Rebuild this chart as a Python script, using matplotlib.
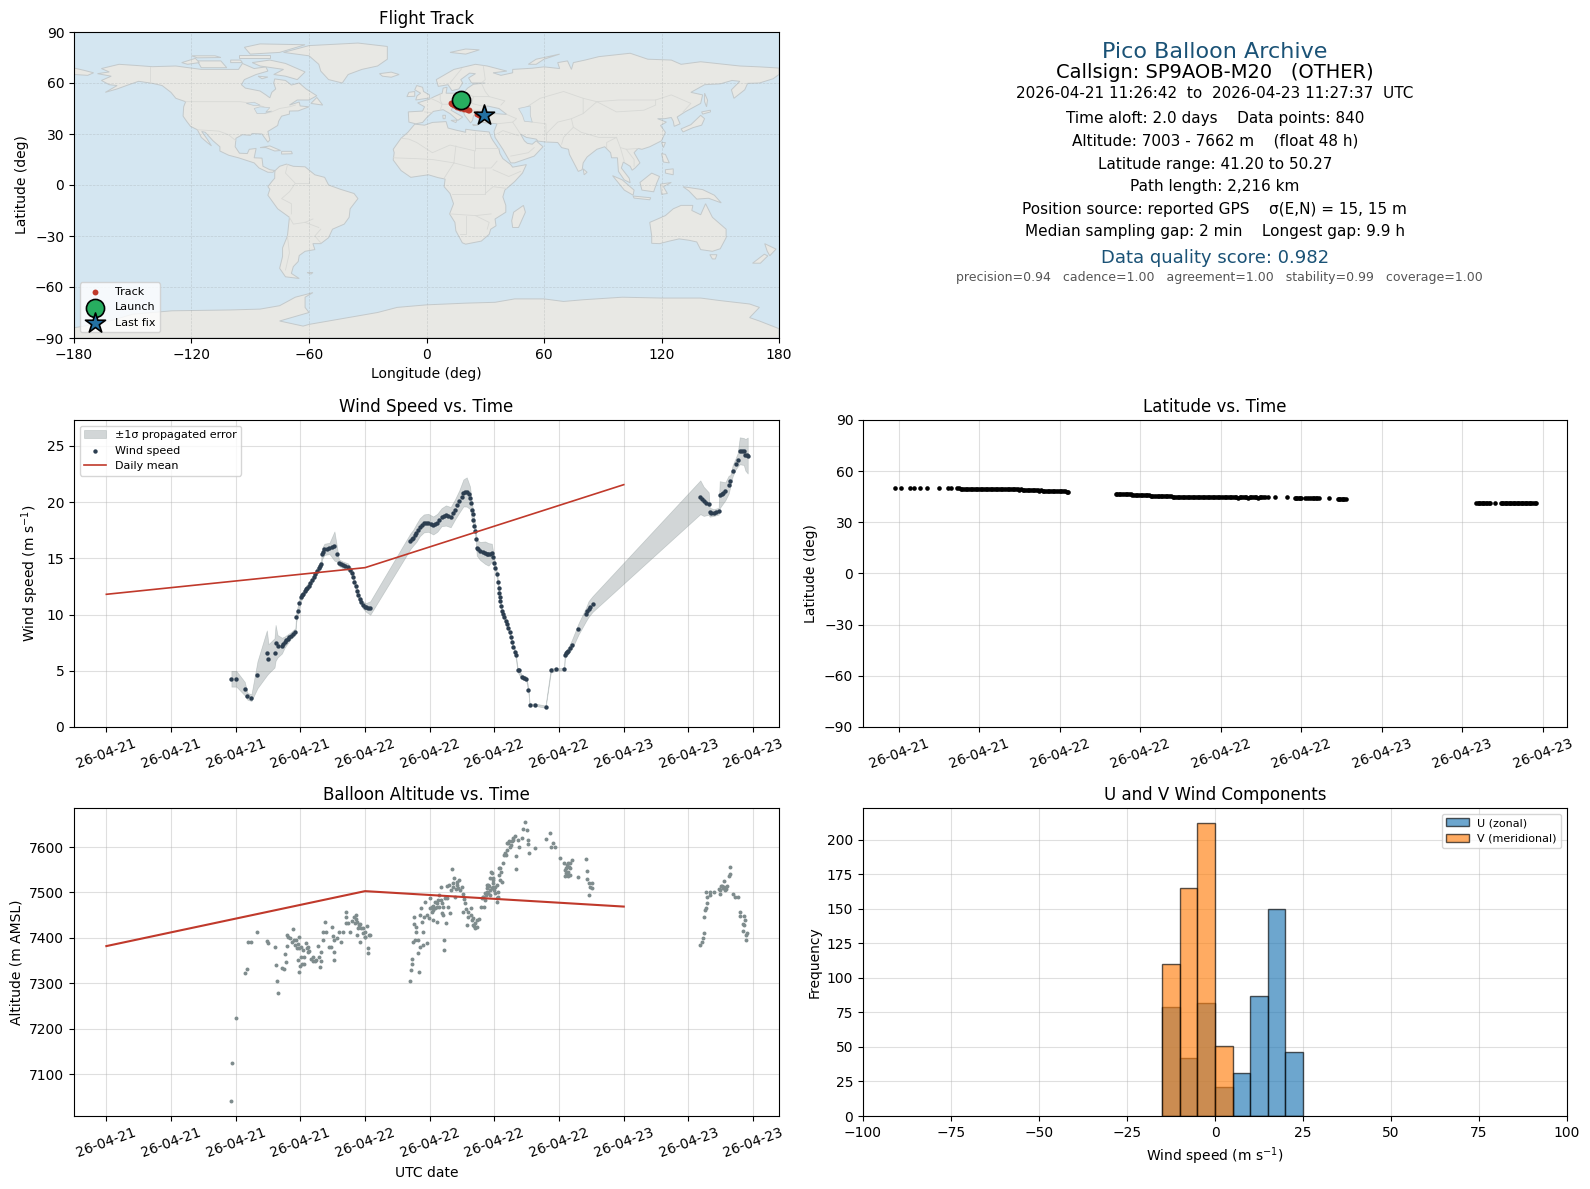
import pandas as pd
import matplotlib
matplotlib.use("Agg")
import matplotlib.pyplot as plt
import matplotlib.dates as mdates
from matplotlib.patches import Polygon

# Flight data, hours are counted from 2026-04-21 00:00 UTC
START = pd.Timestamp("2026-04-21")

wind_hours = [
    11.6, 12.06, 12.84, 13.09, 13.46, 14.02, 14.89, 15.04, 15.6, 15.7,
    15.88, 16.29, 16.53, 16.81, 17.12, 17.53, 17.62, 17.75, 17.9, 18.06,
    18.27, 18.52, 18.77, 19.08, 19.39, 19.7, 19.92, 20.01, 20.23, 20.7,
    21.16, 21.38, 21.57, 21.94, 22.4, 22.81, 23.02, 23.24, 23.49, 23.8,
    24.11, 24.48, 28.21, 28.46, 28.77, 29.08, 29.45, 29.86, 30.32, 30.7,
    31.1, 31.5, 31.94, 32.34, 32.75, 33.12, 33.43, 33.74, 33.89, 34.05,
    34.24, 34.36, 34.67, 35.14, 35.45, 35.76, 35.98, 36.22, 36.32, 36.44,
    36.53, 36.69, 36.91, 37.16, 37.4, 37.62, 37.93, 38.15, 38.55, 38.96,
    39.14, 39.27, 39.72, 40.74, 41.23, 41.73, 42.47, 42.53, 42.87, 43.18,
    43.8, 44.51, 44.73, 45.1, 55.1, 55.41, 55.88, 55.97, 56.34, 56.8,
    56.9, 57.42, 57.73, 57.89, 58.1, 58.38, 58.57, 58.76, 59.13, 59.28, 59.5,
]
wind_speed = [
    4.29, 4.29, 3.41, 2.73, 2.61, 4.65, 6.59, 6.06, 6.59, 7.48,
    7.18, 7.24, 7.54, 7.83, 8.13, 8.48, 9.75, 10.34, 10.99, 11.52,
    11.87, 12.26, 12.55, 13.05, 13.64, 14.17, 14.47, 15.41, 15.8, 15.88,
    16.09, 15.41, 14.62, 14.41, 14.26, 13.73, 12.85, 12.11, 11.37, 10.84,
    10.63, 10.58, 16.53, 16.83, 17.27, 17.77, 18.1, 18.16, 17.92, 18.16,
    18.66, 18.81, 18.66, 19.34, 20.07, 20.81, 20.9, 20.37, 19.34, 18.45,
    17.42, 15.94, 15.65, 15.5, 15.35, 15.5, 14.62, 13.58, 12.85, 11.96,
    11.22, 10.34, 9.75, 9.16, 8.42, 7.54, 6.65, 5.09, 4.44, 4.29,
    3.32, 1.99, 1.99, 1.81, 5.03, 5.12, 5.15, 6.42, 6.8, 7.33,
    8.72, 10.04, 10.49, 10.93, 20.43, 20.07, 19.87, 19.1, 19.07, 19.19,
    20.66, 20.96, 21.55, 21.9, 22.79, 23.41, 23.76, 24.56, 24.5, 24.2, 24.14,
]
wind_err = [
    .7, .7, .6, .3, .3, 1.2, 2.0, 1.3, 1.3, 1.6,
    1.0, .7, .5, .4, .3, .3, .4, .4, .4, .3,
    .3, .3, .3, .3, .3, .3, .3, .5, .5, .5,
    1.3, .7, .3, .3, .3, .3, .3, .3, .3, .3,
    .4, .6, .7, .7, .8, .8, .8, .8, .8, .8,
    .8, .9, .9, .9, 1.0, 1.2, 1.3, 1.0, .8, .6,
    .5, .7, .8, 1.0, 1.0, .8, .4, .3, .3, .3,
    .2, .2, .2, .2, .2, .2, .2, .2, .2, .2,
    .2, .1, .1, .1, .2, .1, .1, .3, .3, .4,
    .5, .6, .7, .7, 1.5, 1.3, 1.0, .4, .3, .3,
    1.2, .8, .8, .5, .5, .5, .6, 1.2, 1.2, 1.4, 1.6,
]
# more fixes in the stretches where the dots run together
wind_hours_more = [
    16.4, 16.67, 16.97, 17.32, 18.16, 18.4, 18.65, 18.92, 19.22, 19.55,
    19.81, 20.1, 20.45, 20.95, 21.75, 22.15, 22.6, 22.92, 23.13, 23.36,
    23.65, 23.95, 24.3, 28.33, 28.6, 28.92, 29.25, 29.65, 30.1, 30.5,
    30.9, 31.3, 31.7, 32.15, 32.55, 32.95, 33.28, 33.6, 33.82, 33.97,
    34.15, 34.3, 34.5, 34.9, 35.3, 35.6, 35.87, 36.1, 36.38, 36.48,
    36.6, 36.8, 37.03, 37.28, 37.5, 37.77, 38.02, 38.3, 38.7, 42.6,
    42.7, 43.0, 44.6, 44.9, 55.25, 55.65, 56.05, 56.6, 57.1, 57.25,
    58.95, 59.4,
]
wind_speed_more = [
    7.4, 7.7, 8.0, 8.3, 11.7, 12.05, 12.4, 12.8, 13.35, 13.9,
    14.3, 15.6, 15.85, 16.0, 14.5, 14.35, 14.0, 13.3, 12.5, 11.75,
    11.1, 10.7, 10.6, 16.7, 17.05, 17.5, 17.95, 18.15, 18.05, 18.05,
    18.4, 18.75, 18.75, 19.0, 19.7, 20.45, 20.9, 20.7, 19.9, 18.9,
    17.9, 16.7, 15.8, 15.55, 15.4, 15.4, 15.1, 14.1, 12.4, 11.6,
    10.8, 10.05, 9.45, 8.8, 8.0, 7.1, 6.4, 5.1, 4.35, 6.6,
    6.7, 7.05, 10.3, 10.7, 20.25, 19.95, 19.05, 19.1, 20.75, 20.85,
    24.55, 24.15,
]

mean_hours = [0, 24, 48]
wind_daily = [11.8, 14.17, 21.55]
alt_daily = [7382, 7503, 7469]

alt_hours = [
    11.6, 11.69, 12.06, 12.84, 13.09, 13.18, 13.46, 14.02, 14.86, 15.04,
    15.6, 15.7, 15.79, 15.88, 16.26, 16.44, 16.53, 16.63, 16.72, 16.72,
    16.81, 17.03, 17.28, 17.22, 17.44, 17.53, 17.65, 17.78, 17.84, 17.9,
    17.96, 18.06, 18.15, 18.27, 18.37, 18.52, 18.58, 18.71, 18.83, 18.99,
    19.14, 19.33, 19.61, 19.7, 19.83, 19.92, 19.95, 20.08, 20.14, 20.26,
    20.39, 20.64, 20.85, 20.92, 21.0, 21.1, 21.1, 21.16, 21.38, 21.57,
    21.75, 21.94, 22.19, 22.25, 22.19, 22.4, 22.62, 22.81, 22.96, 23.12,
    23.24, 23.24, 23.43, 23.49, 23.65, 23.8, 23.96, 24.02, 24.17, 24.26,
    24.26, 24.36, 24.48, 28.18, 28.27, 28.31, 28.4, 28.46, 28.62, 28.52,
    28.52, 28.68, 28.77, 28.87, 28.93, 29.02, 29.08, 29.14, 29.18, 29.24,
    29.33, 29.39, 29.45, 29.58, 29.7, 29.76, 29.95, 30.01, 30.07, 30.17,
    30.32, 30.32, 30.48, 30.64, 30.7, 30.79, 30.88, 31.0, 31.1, 31.2,
    31.26, 31.32, 31.35, 31.47, 31.57, 31.63, 31.72, 31.88, 32.1, 32.13,
    32.25, 32.34, 32.5, 32.75, 32.66, 32.96, 33.12, 33.27, 33.06, 33.43,
    33.58, 33.8, 33.89, 34.05, 34.2, 34.36, 34.61, 34.74, 34.92, 35.14,
    35.3, 35.45, 35.6, 35.73, 35.85, 36.0, 36.2, 36.44, 36.44, 35.04,
    34.82, 35.23, 35.35, 35.44, 35.6, 35.69, 35.75, 35.91, 35.91, 36.06,
    36.22, 36.22, 36.37, 36.53, 36.53, 36.68, 36.77, 36.9, 36.99, 37.15,
    37.3, 37.46, 37.61, 37.76, 37.92, 38.01, 38.01, 38.23, 38.32, 38.54,
    38.69, 38.85, 39.0, 39.07, 39.16, 39.22, 39.72, 40.77, 41.2, 41.26,
    41.42, 41.63, 42.04, 42.41, 42.56, 42.72, 42.87, 43.03, 43.18, 43.03,
    43.8, 44.45, 44.58, 44.58, 44.76, 45.04, 44.89, 45.04, 44.82, 55.1,
    55.26, 55.35, 55.41, 55.41, 55.5, 55.66, 55.72, 55.6, 55.72, 55.97,
    55.97, 56.34, 56.8, 56.96, 57.02, 57.21, 57.33, 57.52, 57.58, 57.73,
    57.89, 57.83, 58.11, 58.35, 58.57, 58.82, 58.82, 59.13, 59.22, 59.03,
    59.13, 59.03, 59.44, 59.35, 59.32,
    30.32, 30.48, 30.17, 30.7, 30.88, 31.0, 31.13, 31.41, 31.82, 31.94,
    32.19, 32.44, 32.56, 32.81, 33.18, 33.37, 33.58, 33.8, 34.05, 34.2,
    34.36, 34.11, 17.6, 17.75, 17.9, 18.06, 18.37, 18.68, 19.14, 19.45,
    23.03, 23.34, 23.55, 23.8, 23.96, 23.18, 35.35, 35.54, 35.85, 35.6,
    35.13, 34.98, 36.06, 36.37, 36.59, 37.08, 37.21, 37.39, 37.52, 37.7,
    42.66, 42.78, 42.9, 42.66, 42.87, 43.0, 42.78, 42.56, 57.11, 56.89,
    57.27, 57.36,
]
alt_meters = [
    7040, 7124, 7224, 7323, 7332, 7390, 7391, 7414, 7394, 7388,
    7379, 7341, 7306, 7279, 7334, 7332, 7365, 7346, 7407, 7383,
    7401, 7399, 7419, 7391, 7396, 7384, 7377, 7351, 7326, 7401,
    7338, 7358, 7343, 7373, 7343, 7388, 7377, 7380, 7371, 7354,
    7349, 7349, 7382, 7358, 7336, 7369, 7349, 7395, 7413, 7434,
    7413, 7379, 7380, 7423, 7404, 7369, 7351, 7395, 7399, 7413,
    7392, 7413, 7458, 7445, 7432, 7432, 7413, 7438, 7445, 7450,
    7436, 7406, 7428, 7391, 7421, 7410, 7413, 7402, 7426, 7377,
    7367, 7406, 7406, 7306, 7329, 7343, 7353, 7391, 7395, 7430,
    7445, 7413, 7424, 7396, 7367, 7326, 7450, 7379, 7465, 7436,
    7384, 7413, 7447, 7480, 7389, 7450, 7443, 7465, 7487, 7458,
    7470, 7439, 7480, 7436, 7469, 7484, 7495, 7512, 7454, 7450,
    7469, 7395, 7373, 7432, 7487, 7514, 7469, 7454, 7551, 7512,
    7531, 7491, 7517, 7528, 7509, 7512, 7497, 7476, 7456, 7428,
    7447, 7465, 7439, 7428, 7421, 7423, 7441, 7469, 7491, 7484,
    7502, 7517, 7495, 7544, 7531, 7506, 7517, 7554, 7539, 7469,
    7487, 7495, 7517, 7498, 7531, 7545, 7509, 7528, 7512, 7498,
    7480, 7487, 7500, 7554, 7528, 7524, 7565, 7583, 7588, 7594,
    7609, 7601, 7613, 7620, 7624, 7581, 7551, 7616, 7600, 7620,
    7640, 7655, 7637, 7616, 7607, 7587, 7598, 7618, 7630, 7601,
    7610, 7600, 7576, 7566, 7537, 7561, 7546, 7565, 7571, 7539,
    7534, 7573, 7548, 7530, 7522, 7520, 7512, 7509, 7494, 7384,
    7391, 7399, 7411, 7447, 7461, 7465, 7476, 7500, 7489, 7495,
    7502, 7500, 7507, 7497, 7514, 7509, 7526, 7507, 7514, 7537,
    7541, 7556, 7496, 7489, 7491, 7456, 7448, 7448, 7439, 7430,
    7428, 7416, 7410, 7406, 7396,
    7461, 7465, 7469, 7476, 7469, 7484, 7476, 7487, 7517, 7506,
    7520, 7507, 7524, 7506, 7485, 7463, 7458, 7450, 7443, 7432,
    7439, 7426, 7395, 7386, 7377, 7380, 7358, 7369, 7358, 7351,
    7432, 7421, 7430, 7421, 7402, 7441, 7509, 7514, 7520, 7506,
    7498, 7491, 7512, 7491, 7546, 7583, 7609, 7613, 7605, 7616,
    7553, 7539, 7557, 7542, 7537, 7553, 7565, 7550, 7514, 7506,
    7511, 7506,
]

lat_hours = [
    11.7, 12.13, 12.87, 13.1, 13.55, 14.07, 15.0, 15.65, 15.87, 16.36,
    16.6, 16.85, 17.1, 17.35, 17.6, 17.85, 18.1, 18.35, 18.6, 18.85,
    19.1, 19.35, 19.6, 19.85, 20.1, 20.35, 20.6, 20.85, 21.1, 21.35,
    21.6, 21.85, 22.1, 22.35, 22.6, 22.85, 23.1, 23.35, 23.6, 23.85,
    24.1, 24.35, 24.6,
    28.15, 28.4, 28.65, 28.9, 29.15, 29.4, 29.65, 29.9, 30.15, 30.4,
    30.65, 30.9, 31.15, 31.4, 31.65, 31.9, 32.15, 32.4, 32.65, 32.9,
    33.15, 33.4, 33.65, 33.9, 34.15, 34.4, 34.65, 34.9, 35.15, 35.4,
    35.65, 35.9, 36.15, 36.4, 36.65, 36.9, 37.15, 37.4, 37.65, 37.9,
    38.15, 38.4, 38.65, 38.9, 39.15, 39.5, 40.0, 40.95, 41.5, 41.7,
    41.9, 42.3, 42.6, 42.85, 43.1, 43.3, 44.05, 44.7, 44.9, 45.1, 45.3,
    55.05, 55.25, 55.45, 55.65, 55.85, 56.05, 56.45, 56.85, 57.05, 57.25,
    57.45, 57.65, 57.85, 58.05, 58.25, 58.45, 58.65, 58.85, 59.05, 59.25, 59.5,
    16.5, 16.72, 16.98, 17.22, 17.48, 17.72, 17.98, 18.22, 18.48, 18.72,
    18.98, 19.22, 19.48, 19.72, 19.98, 20.22, 20.48, 20.72, 20.98, 21.22,
    21.48, 21.72, 21.98, 22.22, 22.48, 22.72, 22.98, 23.22, 23.48, 23.72,
    23.98, 24.22, 24.5, 28.28, 28.52, 28.78, 29.02, 29.28, 29.52, 29.78,
    30.02, 30.28, 30.52, 30.78, 31.02, 31.28, 31.52, 31.78, 32.02, 32.28,
    32.52, 32.78, 33.02, 33.28, 33.52, 33.78, 34.02, 34.28, 34.52, 34.78,
    35.02, 35.28, 35.52, 35.78, 36.02, 36.28, 36.52, 36.78, 37.02, 37.28,
    37.52, 37.78, 38.02, 38.28, 38.52, 38.78, 39.02, 39.3, 41.6, 41.8,
    42.0, 42.45, 42.72, 42.98, 43.2, 44.8, 45.0, 45.2, 55.15, 55.35,
    55.55, 55.75, 55.95, 56.95, 57.15, 57.35, 57.55, 57.75, 57.95, 58.15,
    58.35, 58.55, 58.75, 58.95, 59.15, 59.38,
]
lat_deg = [
    50.1, 50.1, 50.1, 50.1, 50.1, 50.1, 50.1, 50.1, 50.1, 50.1,
    49.8, 49.8, 49.8, 49.8, 49.8, 49.7, 49.7, 49.7, 49.7, 49.7,
    49.7, 49.7, 49.6, 49.6, 49.6, 49.5, 49.5, 49.4, 49.3, 49.2,
    49.1, 49.0, 48.9, 48.8, 48.7, 48.5, 48.4, 48.4, 48.3, 48.3,
    48.2, 48.2, 47.9,
    46.7, 46.7, 46.6, 46.5, 46.4, 46.3, 46.2, 46.1, 46.0, 45.9,
    45.8, 45.6, 45.5, 45.4, 45.4, 45.3, 45.2, 45.1, 45.1, 45.0,
    44.9, 44.8, 44.8, 44.8, 44.8, 44.8, 44.7, 44.7, 44.7, 44.7,
    44.7, 44.7, 44.7, 44.7, 44.7, 44.6, 44.6, 44.6, 44.6, 44.6,
    44.6, 44.6, 44.6, 44.6, 44.6, 44.7, 44.8, 44.8, 44.5, 44.4,
    44.3, 44.3, 44.2, 44.2, 44.2, 44.2, 44.2, 43.6, 43.6, 43.5, 43.6,
    41.3, 41.3, 41.3, 41.3, 41.3, 41.3, 41.3, 41.3, 41.3, 41.3,
    41.3, 41.3, 41.3, 41.2, 41.2, 41.3, 41.3, 41.2, 41.3, 41.3, 41.3,
    49.9, 49.8, 49.7, 49.8, 49.7, 49.8, 49.6, 49.7, 49.6, 49.7,
    49.7, 49.6, 49.7, 49.5, 49.6, 49.5, 49.4, 49.4, 49.2, 49.2,
    49.0, 48.9, 48.8, 48.7, 48.5, 48.5, 48.3, 48.3, 48.2, 48.2,
    48.1, 48.1, 48.0, 46.8, 46.6, 46.6, 46.4, 46.4, 46.2, 46.2,
    46.0, 46.0, 45.8, 45.7, 45.5, 45.5, 45.3, 45.3, 45.2, 45.2,
    45.0, 45.0, 44.9, 44.9, 44.7, 44.8, 44.7, 44.8, 44.6, 44.7,
    44.7, 44.6, 44.7, 44.6, 44.7, 44.7, 44.6, 44.6, 44.7, 44.5,
    44.6, 44.6, 44.5, 44.6, 44.6, 44.5, 44.6, 44.6, 44.4, 44.3,
    44.3, 44.2, 44.3, 44.2, 44.1, 43.5, 43.6, 43.6, 41.4, 41.2,
    41.3, 41.2, 41.3, 41.2, 41.3, 41.4, 41.2, 41.3, 41.2, 41.3,
    41.2, 41.3, 41.2, 41.2, 41.3, 41.2,
]

track_lon = [17.2, 15.5, 14.0, 12.5, 13.0, 14.0, 15.0, 15.5, 16.5, 17.0, 18.0, 19.0, 20.0, 21.0, 21.5, 26.0, 26.8, 27.5, 28.5, 29.4]
track_lat = [49.8, 49.3, 48.8, 48.0, 47.4, 46.9, 46.4, 45.9, 45.6, 45.2, 45.2, 44.8, 44.6, 44.2, 43.9, 41.8, 41.4, 41.3, 41.3, 41.2]
launch_lon, launch_lat = [17.8], [50.27]
last_lon, last_lat = [29.4], [41.2]

hist_edges = [-15, -10, -5, 0, 5, 10, 15, 20, 25]
u_counts = [79, 42, 82, 21, 31, 87, 150, 46]
v_counts = [110, 165, 212, 51, 0, 0, 0, 0]

# Rough coastlines, lon/lat
land = [
    # north america
    [(-168,65.5),(-162,66.5),(-166,68.5),(-157,71),(-148,70.3),(-140,69.6),(-128,70),(-115,68),(-108,68),(-96,68),
     (-94,71.5),(-88,68.5),(-82,69.5),(-81,67),(-87,65),(-93,62),(-94.5,59),(-92.5,57),(-85,55.3),(-82,53),(-80,51.3),
     (-79,54.5),(-77,56.5),(-78,60),(-77.5,62.4),(-72,61.5),(-69,58.8),(-65,60),(-61.5,56.5),(-56,52.5),(-60,50),
     (-66,50),(-70,47),(-65,48.8),(-64.5,46.5),(-60,46),(-65.5,43.6),(-70,43.5),(-70,41.7),(-74,40.5),(-75.5,37.5),
     (-76,35),(-81,31.5),(-80,26.5),(-81,25.2),(-82.8,28),(-84,30),(-89,30.3),(-90,29.2),(-94,29.6),(-97.3,27.5),
     (-97.7,22.5),(-95.5,18.7),(-91.5,18.5),(-90.5,21),(-87,21.5),(-88,16),(-84,15.8),(-83.5,11),(-80,9),(-77.3,8.5),
     (-78.5,7.5),(-81,7.5),(-85.5,10),(-88,13),(-92,14.5),(-96,16),(-101,17.5),(-105.5,20),(-105.5,22.5),(-109,26),
     (-113,31),(-114.8,31.5),(-112,27),(-109.8,23),(-112,25),(-115,28),(-117,32.5),(-120.5,34.5),(-122.5,37.5),
     (-124.3,40.5),(-124,46),(-123,49),(-128,51),(-130.5,54.5),(-135,58.5),(-140,59.8),(-147,61),(-152,59),(-158,56.5),
     (-164,54.5),(-158,58.5),(-162,59),(-166,61.5),(-161,64)],
    # south america
    [(-77.3,8.5),(-75,11),(-71.5,12.3),(-68,11),(-62,10.7),(-57,6),(-52,4.5),(-50,0),(-44,-2.5),(-37,-5),(-35,-8),
     (-39,-14),(-39.5,-19),(-42,-23),(-48,-26),(-50,-31),(-54,-34.5),(-58,-34.5),(-57,-38),(-62,-39),(-65,-41.5),
     (-65.5,-45),(-68,-48),(-69,-52),(-65,-55),(-72,-54),(-75,-49),(-73.5,-42),(-73.5,-37),(-71,-30),(-70,-19),
     (-76,-14),(-81,-6),(-80,-2.5),(-81,-1),(-79,2),(-77.5,4),(-77.5,7)],
    # africa
    [(-6,35.8),(-1,35.2),(3,36.8),(10,37.3),(11,33.5),(15,32.3),(20,31),(20,32.8),(25,32),(32,31.2),(33,28),(34,26),
     (37,21),(37.5,18.5),(39,15.5),(43,12),(44,10.5),(51,12),(49,7),(45,2),(40,-3),(39,-7),(40.5,-12),(40.5,-16),
     (35,-20),(35.5,-24),(32.8,-26),(32,-29),(28,-33),(20,-34.8),(18.3,-34),(15,-27),(14.5,-22),(11.8,-17),(13.8,-11),
     (12,-5),(9,-1),(9.5,3.5),(6,4.3),(1,6),(-4,5.2),(-8,4.5),(-13,8.5),(-17,14.7),(-16.5,19),(-17,21),(-13,27.5),(-9.5,31)],
    # eurasia
    [(-5.5,36),(-9,37),(-9.3,43),(-2,43.5),(-1,46),(-4.5,48.3),(1.5,50.5),(4,52),(8,54),(8.5,57),(10.5,57.5),(10,54),
     (14,54),(19,54.5),(21,57),(24,59.3),(30,60),(23,60),(21.5,63),(25,65.5),(22,65.8),(17.5,62),(18.5,60),(16.5,56.5),
     (13,55.5),(11,59),(6,58),(5,62),(14,68),(25,71),(31,70),(41,67),(34,66),(38,64.5),(44,66),(44,68),(54,68.7),(60,69.5),
     (68,68.5),(67,72),(72,73),(74,68),(75,72),(81,73.5),(88,75.5),(104,77.5),(113,74),(125,73.5),(130,71),(140,72.5),
     (152,71),(160,70),(170,69.5),(180,68.8),(180,65),(177,62.5),(170,60),(164,59.8),(162.5,56),(157,51),(155.7,56),
     (160,61),(156,61.5),(150,59.5),(142,59),(135,54.5),(141,53),(140,48),(132,43),(128,40),(129.5,36),(126.5,34.5),
     (126,37.5),(125,39.7),(121.5,39),(118,39),(122.5,37),(119.5,35),(122,31),(120,26),(114,22.5),(110,21),(108,21.5),
     (106,19),(109,13),(106.5,10),(105,8.7),(104,11),(100.5,13.5),(99.5,10),(103.5,4),(104,1.3),(101,3),(98,8),(97.5,16),
     (94.5,16),(94,19),(91,22.5),(87,21),(82,16.5),(80,13),(79.5,9),(77.5,8),(73,18),(72.5,21),(69,22),(67,25),(61,25.3),
     (57,25.8),(56,27),(51,28),(48,30),(50,26),(51.5,24.5),(54,24),(56,26),(59.5,22.5),(55,17),(45,13),(43,13),(39,21),
     (35,28),(34.5,31.5),(36,36),(31,36.5),(27,37),(26.5,40),(29,41),(35,42),(41,41.5),(37,45),(33,46),(31,46.5),(28,43),
     (26,40.7),(24,40.8),(23.5,38),(22.5,36.5),(19.5,41),(19,42.5),(13.5,45.5),(12.5,44),(16,41.7),(18.5,40),(16,38),
     (12,42),(8.5,44.3),(3.5,43.3),(0,39.5),(-2,36.8)],
    [(-180,68.8),(-175,67.5),(-170,66),(-173,64.5),(-180,65)],
    # greenland and arctic canada
    [(-73,78),(-60,82),(-35,83.5),(-20,81.5),(-20,74),(-25,70),(-33,68),(-40,65),(-43,60),(-50,62),(-54,67),(-55,71),(-60,76)],
    [(-80,73.5),(-72,71.5),(-62,66.5),(-66,62),(-72,64),(-78,65),(-73,68),(-85,70),(-89,72)],
    [(-117,73),(-105,73),(-102,69),(-115,69)],
    [(-90,77),(-75,78),(-62,82.5),(-85,83),(-93,81)],
    [(-125,72),(-118,74.5),(-116,72),(-122,71)],
    [(-96,75),(-80,75),(-80,76.5),(-96,76.5)],
    [(-120,76),(-108,76),(-105,75),(-117,74.8)],
    [(-100,73.5),(-95,73.5),(-94,72),(-100,72)],
    [(-59,48),(-53,47),(-56,51.5)],
    [(-86,64),(-81,63.5),(-84,62.5)],
    # caribbean
    [(-85,22),(-80,23),(-74.5,20.3),(-77.5,20),(-82,22)],
    [(-74,19.8),(-69,19.8),(-68.5,18.4),(-74,18.2)],
    # europe islands
    [(-24,65.5),(-18,66.4),(-14,65),(-18,63.4),(-22.5,64)],
    [(-5.5,50),(1.5,51.2),(1.5,53),(-1.5,55),(-2,57.5),(-5,58.5),(-6,56),(-3,54),(-4.8,52.5)],
    [(-10,52),(-6,52.2),(-6,55),(-9,54.5)],
    [(12,78),(20,80),(27,79.5),(20,77)],
    [(52,71),(56,74),(68,77),(60,74),(56,71)],
    [(12.5,38),(15.5,38.2),(15,36.7)],
    [(8.3,41),(9.7,41),(9.5,39),(8.5,39)],
    [(23.5,35.6),(26.3,35.2),(24,34.9)],
    # asia islands
    [(130,33),(135,35.5),(140,41),(142,39),(140.5,35.2),(136,33.7),(131,31.2)],
    [(140.5,43),(145,44),(145,43),(141,41.7)],
    [(142,54),(143.5,50),(143,46),(142,49)],
    [(120,25),(122,25),(121,22)],
    [(120,18.5),(122,18),(124,13),(121,13.5)],
    [(122,9),(126,9.5),(126,6),(122,7)],
    [(95,5.5),(100,3),(106,-3),(105.5,-6),(101,-3)],
    [(105.5,-6.5),(114.5,-7.5),(114,-8.7),(106,-7.7)],
    [(109,1.5),(115,7),(119,5),(117.5,1),(116,-4),(110,-3)],
    [(119.5,0.5),(125,1.5),(121,-1),(123,-5),(120,-5.5)],
    [(131,-1),(141,-2.7),(147,-6),(150.5,-10.5),(144,-7.8),(138,-8.3),(134,-3.5)],
    [(80,9.5),(82,7.5),(80.5,6)],
    # southern continents and islands
    [(49.5,-12),(50.5,-16),(47,-25),(44,-25),(43.5,-21),(44.5,-16)],
    [(114,-22),(122,-18),(126,-14),(130,-12),(136,-12),(135.5,-15),(140,-17.5),(142.5,-11),(146,-19),(153,-26),
     (153,-31),(150,-37.5),(146,-39),(140,-38),(138,-33.5),(134,-32.5),(129,-31.7),(124,-33),(119,-34.5),(115,-34.3),(115,-30)],
    [(144.7,-41),(148.3,-41),(147.5,-43.5),(146,-43.5)],
    [(172.7,-34.5),(178.5,-37.7),(175.3,-41.6),(174,-39)],
    [(172.5,-40.7),(174.3,-41.7),(170.5,-46),(166.5,-46)],
    [(-61,-51.5),(-58,-51.5),(-59,-52.4)],
    [(-180,-84),(-165,-81),(-150,-76),(-130,-74),(-100,-73.5),(-85,-73),(-75,-71),(-67,-66),(-58,-63.3),(-62,-66),
     (-62,-72),(-60,-75),(-75,-80),(-63,-83),(-60,-82),(-45,-79),(-35,-77),(-25,-75),(-15,-72),(0,-70.5),(20,-69.5),
     (35,-69),(45,-67),(60,-67),(70,-68.5),(80,-67.5),(100,-66),(120,-66.5),(140,-66.5),(150,-68),(165,-70),(170,-72),
     (165,-78),(170,-80),(180,-84.5),(180,-90),(-180,-90)],
]
# inland water painted back in ocean colour
lakes = [
    [(47,45),(53,46.5),(53,41),(54,37),(50,37.5),(49,41)],
    [(-92,48),(-88,48.7),(-85,47),(-88,46.7)],
    [(-88,45),(-85,46),(-80,45.5),(-82,43),(-79,43.5),(-83,42),(-86.5,42)],
]
# a few faint borders
borders = [
    [(-141,69.6),(-141,60)], [(-123,49),(-95,49),(-89,48),(-83,46),(-82.5,42),(-79,43),(-75,45),(-70,46),(-67,47)],
    [(-117,32.5),(-106,31.7),(-101,29.5),(-97.3,26)], [(-71,12),(-72,7),(-67,1),(-70,-4),(-74,-8),(-69,-11),(-69,-17)],
    [(-58,-20),(-62,-22),(-68,-23),(-70,-19)], [(-54,-26),(-57,-30),(-54,-34)], [(-71,-30),(-70,-40),(-72,-50)],
    [(-62,-22),(-55,-25)], [(-60,5),(-60,1),(-67,1)],
    [(-13,27.5),(-9,27),(-5,25),(3,19),(12,23.5),(25,20),(25,31)], [(25,22),(37,22)], [(-17,16),(-5,15.5),(3,15),(14,13)],
    [(14,13),(15,23)], [(14,13),(9,4)], [(24,10),(24,20)], [(24,10),(33,10),(36,14)], [(14,13),(24,10)], [(13,-5),(30,-5)],
    [(30,-5),(30,10)], [(30,-5),(34,-1),(41,-2)], [(12,-17),(25,-18),(33,-17)], [(20,-18),(20,-29),(17,-29)],
    [(25,-18),(32,-22),(31,-26)], [(34,9),(42,5),(48,8)],
    [(-1,43),(3,42.5)], [(2,51),(6,49),(8,47.5),(7,44)], [(7,54),(7,50),(8,47.5),(13,47.5),(17,48.5),(23,48),(24,52),(19,54.5)],
    [(14,54),(15,51),(19,49.5)], [(13,47.5),(20,46),(22,44),(28,44)], [(23,48),(30,46)], [(24,52),(32,52),(40,49.5),(38,47)],
    [(28,60),(30,55),(32,52)], [(29,70),(30,62),(28,60)], [(18,68.5),(12,60)],
    [(50,45),(58,51),(70,55),(80,51),(87,49)], [(87,49),(98,50),(107,50),(117,50),(125,53),(135,48),(131,43)],
    [(87,49),(97,43),(111,44),(117,47),(117,50)], [(80,42),(74,39),(75,34),(79,31),(88,28),(97,28),(99,22),(102,21),(108,21.5)],
    [(80,51),(80,42),(87,49)], [(54,37),(61,36),(61,30),(67,37),(74,39)], [(61,25.3),(61,30)], [(75,34),(70,28),(69,24)],
    [(36,36),(44,37),(48,30)], [(44,37),(46,39),(41,41.5)], [(36,30),(39,32),(47,29)], [(43,17),(52,19),(55,22)],
    [(99,22),(101,14)], [(102,21),(106,15),(106,11)], [(92,22),(92,25),(97,28)],
]

track_color = "#c0392b"
wind_color = "#2c3e50"
alt_color = "#7f8c8d"
ocean_color = "#d4e6f1"
land_color = "#e8e8e4"
title_color = "#1a5276"

W, H = 1590, 1189


def make_axes(x0, x1, y0, y1):
    return fig.add_axes([x0 / W, 1 - y1 / H, (x1 - x0) / W, (y1 - y0) / H])


def to_dates(hours):
    return [START + pd.Timedelta(hours=h) for h in hours]


def date_axis(ax, left, right):
    ax.set_xlim(to_dates([left, right]))
    ax.xaxis.set_major_locator(mdates.HourLocator(byhour=[0, 6, 12, 18]))
    ax.xaxis.set_major_formatter(mdates.DateFormatter("%y-%m-%d"))
    ax.tick_params(axis="x", labelrotation=20)
    ax.grid(True, color="#b0b0b0", alpha=0.4, lw=0.8)
    ax.set_axisbelow(True)


fig = plt.figure(figsize=(W / 100, H / 100), dpi=100)

# map
ax = make_axes(74, 779, 32, 338)
ax.set_facecolor(ocean_color)
for shape in land:
    ax.add_patch(Polygon(shape, closed=True, fc=land_color, ec="#c3c9cb", lw=0.7, zorder=1))
for shape in lakes:
    ax.add_patch(Polygon(shape, closed=True, fc=ocean_color, ec="#c3c9cb", lw=0.5, zorder=1.2))
for line in borders:
    ax.plot([p[0] for p in line], [p[1] for p in line], color="#d8d9d6", lw=0.6, zorder=1.1)
ax.scatter(track_lon, track_lat, s=18, color=track_color, linewidths=0, label="Track", zorder=3)
ax.scatter(launch_lon, launch_lat, s=170, color="#27ae60", edgecolor="black", lw=1.2, label="Launch", zorder=4)
ax.scatter(last_lon, last_lat, s=230, marker="*", color="#2471a3", edgecolor="black", lw=1.2, label="Last fix", zorder=5)
ax.set_xlim(-180, 180)
ax.set_ylim(-90, 90)
ax.set_xticks(range(-180, 181, 60))
ax.set_yticks(range(-90, 91, 30))
ax.grid(True, color="#9aa0a0", alpha=0.35, lw=0.5, ls="--")
ax.set_axisbelow("line")
ax.set_title("Flight Track", fontsize=12)
ax.set_xlabel("Longitude (deg)")
ax.set_ylabel("Latitude (deg)")
ax.legend(loc="lower left", fontsize=8)

# summary text
ax = make_axes(863, 1567, 32, 338)
ax.axis("off")
summary = [
    (52, 1215, "Pico Balloon Archive", 16, title_color),
    (73, 1215, "Callsign: SP9AOB-M20   (OTHER)", 14, "black"),
    (94, 1215, "2026-04-21 11:26:42  to  2026-04-23 11:27:37  UTC", 11, "black"),
    (118, 1215, "Time aloft: 2.0 days    Data points: 840", 11, "black"),
    (141, 1215, "Altitude: 7003 - 7662 m    (float 48 h)", 11, "black"),
    (164, 1215, "Latitude range: 41.20 to 50.27", 11, "black"),
    (187, 1215, "Path length: 2,216 km", 11, "black"),
    (209, 1214, "Position source: reported GPS    σ(E,N) = 15, 15 m", 11, "black"),
    (232, 1215, "Median sampling gap: 2 min    Longest gap: 9.9 h", 11, "black"),
    (258, 1215, "Data quality score: 0.982", 13, title_color),
    (278, 1219, "precision=0.94   cadence=1.00   agreement=1.00   stability=0.99   coverage=1.00", 9, "#555555"),
]
for y, x, txt, size, col in summary:
    fig.text(x / W, 1 - y / H, txt, fontsize=size, color=col, ha="center", va="center")

# wind speed
ax = make_axes(74, 779, 420, 727)
wind_t = to_dates(wind_hours)
low = [v - e for v, e in zip(wind_speed, wind_err)]
high = [v + e for v, e in zip(wind_speed, wind_err)]
ax.fill_between(wind_t, low, high, color=alt_color, alpha=0.35, lw=0.5, label="±1σ propagated error")
ax.scatter(wind_t + to_dates(wind_hours_more), wind_speed + wind_speed_more, s=10, linewidths=0,
           color=wind_color, label="Wind speed", zorder=3)
ax.plot(to_dates(mean_hours), wind_daily, color=track_color, lw=1.2, label="Daily mean", zorder=4)
date_axis(ax, -3.0, 62.4)
ax.set_ylim(0, 27.3)
ax.set_title("Wind Speed vs. Time", fontsize=12)
ax.set_ylabel("Wind speed (m s$^{-1}$)")
ax.legend(loc="upper left", fontsize=8)

# latitude
ax = make_axes(863, 1567, 420, 727)
ax.scatter(to_dates(lat_hours), lat_deg, s=11, linewidths=0, color="black", zorder=3)
date_axis(ax, 9.33, 61.8)
ax.set_ylim(-90, 90)
ax.set_yticks(range(-90, 91, 30))
ax.set_title("Latitude vs. Time", fontsize=12)
ax.set_ylabel("Latitude (deg)")

# altitude
ax = make_axes(74, 779, 808, 1116)
ax.scatter(to_dates(alt_hours), alt_meters, s=8, linewidths=0, color=alt_color, zorder=3)
ax.plot(to_dates(mean_hours), alt_daily, color=track_color, lw=1.5, zorder=4)
date_axis(ax, -3.0, 62.4)
ax.set_ylim(7008, 7686)
ax.set_yticks(range(7100, 7601, 100))
ax.set_title("Balloon Altitude vs. Time", fontsize=12)
ax.set_xlabel("UTC date")
ax.set_ylabel("Altitude (m AMSL)")

# u and v histogram
ax = make_axes(863, 1567, 808, 1116)
lefts = hist_edges[:-1]
widths = [b - a for a, b in zip(hist_edges[:-1], hist_edges[1:])]
ax.bar(lefts, u_counts, width=widths, align="edge", color="C0", alpha=0.65, edgecolor="black", label="U (zonal)")
ax.bar(lefts, v_counts, width=widths, align="edge", color="C1", alpha=0.65, edgecolor="black", label="V (meridional)")
ax.set_xlim(-100, 100)
ax.set_ylim(0, 223)
ax.set_yticks(range(0, 201, 25))
ax.grid(True, color="#b0b0b0", alpha=0.4, lw=0.8)
ax.set_axisbelow(True)
ax.set_title("U and V Wind Components", fontsize=12)
ax.set_xlabel("Wind speed (m s$^{-1}$)")
ax.set_ylabel("Frequency")
ax.legend(loc="upper right", fontsize=8)

fig.savefig("out.png", dpi=100)
